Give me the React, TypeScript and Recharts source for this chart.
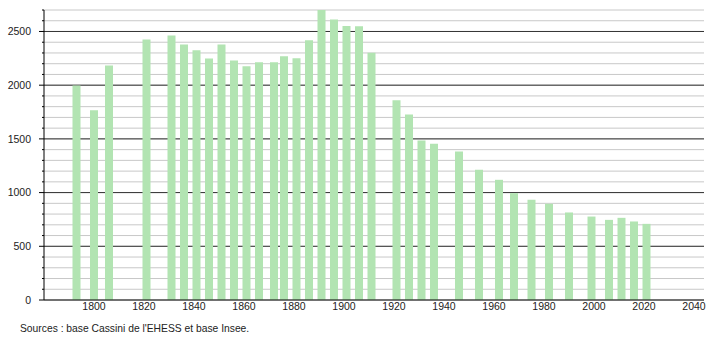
import React from 'react';
import { BarChart, Bar, XAxis, YAxis, CartesianGrid } from 'recharts';

const years = [
  1793, 1800, 1806, 1821, 1831, 1836, 1841, 1846, 1851, 1856, 1861, 1866, 1872, 1876, 1881, 1886,
  1891, 1896, 1901, 1906, 1911, 1921, 1926, 1931, 1936, 1946, 1954, 1962, 1968, 1975, 1982, 1990,
  1999, 2006, 2011, 2016, 2021,
];
const population = [
  1996, 1766, 2183, 2425, 2463, 2379, 2326, 2248, 2379, 2229, 2177, 2214, 2214, 2270, 2251, 2419,
  2699, 2612, 2550, 2548, 2301, 1859, 1726, 1486, 1455, 1383, 1213, 1119, 995, 933, 896, 815,
  777, 746, 765, 731, 709,
];
const xTicks = [1800, 1820, 1840, 1860, 1880, 1900, 1920, 1940, 1960, 1980, 2000, 2020, 2040];
const majorValues = [500, 1000, 1500, 2000, 2500];
const minorValues = Array.from({ length: 28 }, (_, i) => i * 100);

const data = years.map((year, i) => ({ year, population: population[i] }));

const font = 'Liberation Sans, Arial, sans-serif';

const YTick = (props: any) => {
  const { x, y, payload } = props;
  const major = payload.value % 500 === 0;
  return (
    <g>
      <line x1={x - (major ? 5 : 2)} x2={x} y1={y} y2={y} stroke="#000" />
      {major && (
        <text x={x - 13} y={y} dy="0.35em" textAnchor="end" fontSize={10.5} fill="#222" fontFamily={font}>
          {payload.value}
        </text>
      )}
    </g>
  );
};

export default function App() {
  return (
    <div style={{ position: 'absolute', left: 0, top: 0, width: 710, height: 340, background: '#fff' }}>
      <BarChart width={710} height={340} data={data} margin={{ top: 10, right: 6, bottom: 0, left: 0 }}>
        <CartesianGrid vertical={false} horizontalValues={minorValues} stroke="#c8c8c8" />
        <CartesianGrid vertical={false} horizontalValues={majorValues} stroke="#333" />
        <XAxis
          dataKey="year"
          type="number"
          domain={[1780, 2044]}
          ticks={xTicks}
          height={40}
          tickLine={false}
          tickSize={0}
          tickMargin={3}
          axisLine={{ stroke: '#000' }}
          tick={{ fontSize: 10.5, fill: '#222', fontFamily: font }}
          allowDataOverflow
        />
        <YAxis
          type="number"
          domain={[0, 2700]}
          ticks={minorValues}
          width={44}
          tickLine={false}
          tickSize={0}
          tickMargin={0}
          axisLine={{ stroke: '#000' }}
          tick={<YTick />}
          interval={0}
          allowDataOverflow
        />
        <Bar dataKey="population" fill="#b2e4b2" barSize={8} isAnimationActive={false} />
      </BarChart>
      <div
        style={{
          position: 'absolute',
          left: 20,
          top: 323,
          fontSize: 10.3,
          fontFamily: font,
          color: '#222',
        }}
      >
        Sources : base Cassini de l'EHESS et base Insee.
      </div>
    </div>
  );
}
